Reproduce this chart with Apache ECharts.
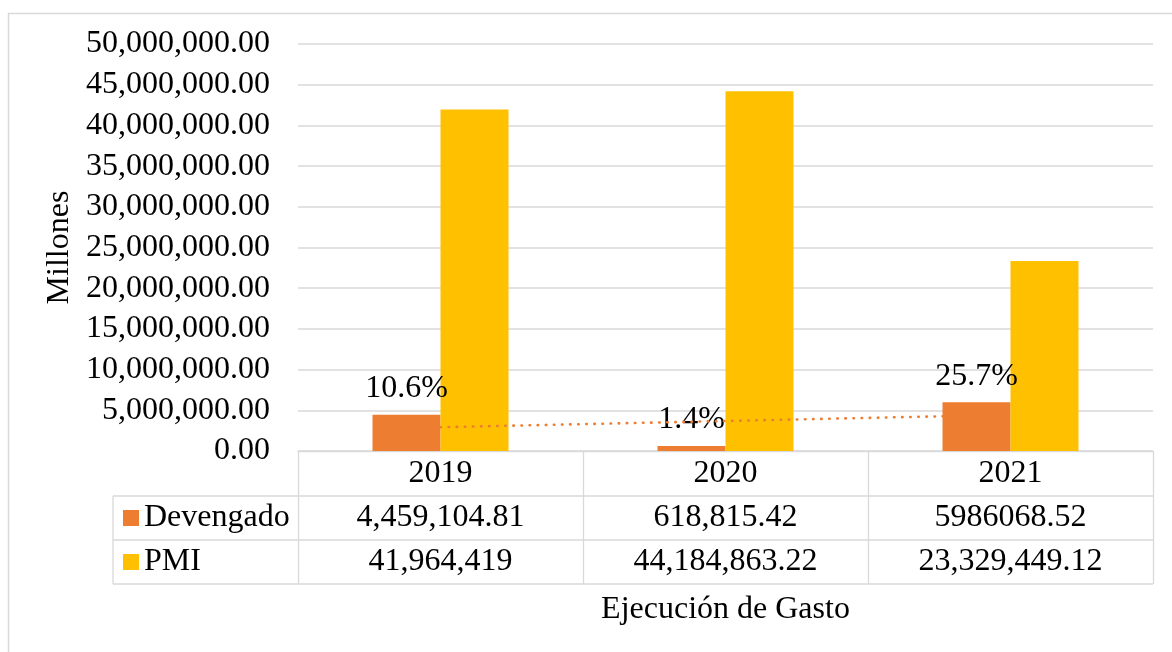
<!DOCTYPE html>
<html><head><meta charset="utf-8">
<script src="https://cdn.jsdelivr.net/npm/echarts@6/dist/echarts.min.js"></script>
<style>html,body{margin:0;padding:0;background:#fff}#c{width:1172px;height:652px}</style>
</head><body><div id="c"></div>
<script>
// ---- data ----
const categories = ['2019', '2020', '2021'];
const devengado = [4459104.81, 618815.42, 5986068.52];
const pmi = [41964419, 44184863.22, 23329449.12];
const devengadoText = ['4,459,104.81', '618,815.42', '5986068.52'];
const pmiText = ['41,964,419', '44,184,863.22', '23,329,449.12'];
const pctLabels = ['10.6%', '1.4%', '25.7%'];
const trendEnds = [2920000, null, 4450000]; // dotted trend line ends
const seriesNames = ['Devengado', 'PMI'];
const yMin = 0, yMax = 50000000, yStep = 5000000;

// ---- layout / style ----
const FONT = 'Liberation Serif';
const FS = 32;
const GRAY = '#D9D9D9';
const W = 1172, H = 652;
const G = { left: 298, right: 19, top: 44, bottom: 201 };
const HEAD_H = 45, ROW_H = 44, KEY_LEFT = 113;

function fmt(v) {
  return Math.round(v).toString().replace(/\B(?=(\d{3})+(?!\d))/g, ',') + '.00';
}

const axisY = H - G.bottom;
const xR = W - G.right;
const row1 = axisY + HEAD_H, row2 = row1 + ROW_H, row3 = row2 + ROW_H;
const lineStyle = { stroke: GRAY, lineWidth: 1.3 };

const chart = echarts.init(document.getElementById('c'), null, { renderer: 'canvas' });
chart.setOption({
  animation: false,
  backgroundColor: '#fff',
  grid: { left: G.left, right: G.right, top: G.top, bottom: G.bottom, containLabel: false, outerBoundsMode: 'none' },
  legend: {
    data: seriesNames, orient: 'vertical', left: KEY_LEFT + 10, top: row1, padding: 0, itemGap: 0,
    icon: 'rect', itemWidth: 16, itemHeight: 16, selectedMode: false,
    textStyle: { fontFamily: FONT, fontSize: FS, color: '#000', lineHeight: ROW_H }
  },
  xAxis: {
    type: 'category', data: categories,
    axisLine: { show: true, lineStyle: { color: GRAY, width: 1.3 } },
    axisTick: { show: true, alignWithLabel: false, length: HEAD_H + 2 * ROW_H, lineStyle: { color: GRAY, width: 1.3 } },
    axisLabel: {
      interval: 0, margin: 0, color: '#000', fontFamily: FONT, fontSize: FS,
      formatter: (v, i) => `{h|${v}}\n{r|${devengadoText[i]}}\n{r|${pmiText[i]}}`,
      rich: {
        h: { fontFamily: FONT, fontSize: FS, lineHeight: HEAD_H, color: '#000' },
        r: { fontFamily: FONT, fontSize: FS, lineHeight: ROW_H, color: '#000' }
      }
    },
    name: 'Ejecución de Gasto', nameLocation: 'middle', nameGap: 143,
    nameTextStyle: { fontFamily: FONT, fontSize: FS, color: '#000' }
  },
  yAxis: {
    type: 'value', min: yMin, max: yMax, interval: yStep,
    axisLine: { show: false }, axisTick: { show: false },
    splitLine: { lineStyle: { color: GRAY, width: 1.5 } },
    axisLabel: { margin: 28, color: '#000', fontFamily: FONT, fontSize: FS, formatter: fmt },
    name: 'Millones', nameLocation: 'middle', nameRotate: 90, nameGap: 221,
    nameTextStyle: { fontFamily: FONT, fontSize: FS, color: '#000' }
  },
  series: [
    {
      name: seriesNames[0], type: 'bar', data: devengado, barWidth: 68, barGap: '0%',
      itemStyle: { color: '#ED7D31' },
      label: { show: true, position: 'top', distance: 10, fontFamily: FONT, fontSize: FS, color: '#000',
        formatter: p => pctLabels[p.dataIndex] }
    },
    {
      name: seriesNames[1], type: 'bar', data: pmi, barWidth: 68, barGap: '0%',
      itemStyle: { color: '#FFC000' }
    },
    {
      name: 'Lineal (Devengado)', type: 'line', data: trendEnds, connectNulls: true, symbol: 'none',
      silent: true, z: 5,
      lineStyle: { color: '#ED7D31', width: 2.6, type: [0.5, 7.6], cap: 'round' }
    }
  ],
  graphic: [
    { type: 'rect', silent: true, shape: { x: 8.5, y: 13.5, width: 1400, height: 900 }, style: { fill: 'none', stroke: GRAY, lineWidth: 1.5 } },
    { type: 'line', silent: true, shape: { x1: KEY_LEFT, y1: row1, x2: xR, y2: row1 }, style: lineStyle },
    { type: 'line', silent: true, shape: { x1: KEY_LEFT, y1: row2, x2: xR, y2: row2 }, style: lineStyle },
    { type: 'line', silent: true, shape: { x1: KEY_LEFT, y1: row3, x2: xR, y2: row3 }, style: lineStyle },
    { type: 'line', silent: true, shape: { x1: KEY_LEFT, y1: row1, x2: KEY_LEFT, y2: row3 }, style: lineStyle }
  ]
});
</script>
</body></html>
